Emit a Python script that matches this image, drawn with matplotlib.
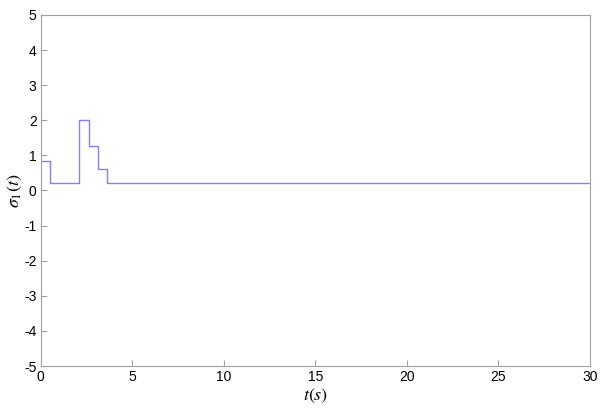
import numpy as np
import matplotlib
matplotlib.use("Agg")
from matplotlib import pyplot as plt

# switching instants and sigma_1 levels (step-post)
t_steps = [0.0, 0.5, 2.1, 2.62, 3.13, 3.64, 30.0]
sigma1 = [0.84, 0.21, 2.0, 1.28, 0.62, 0.21, 0.21]

xticks = [0, 5, 10, 15, 20, 25, 30]
yticks = [-5, -4, -3, -2, -1, 0, 1, 2, 3, 4, 5]

plt.rcParams['font.family'] = ['Liberation Sans', 'DejaVu Sans']
plt.rcParams['mathtext.fontset'] = 'stix'
plt.rcParams['axes.unicode_minus'] = False

fig = plt.figure(figsize=(6.0, 4.15), dpi=100)
ax = fig.add_axes([0.068, 0.118, 0.915, 0.846])

ax.plot(t_steps, sigma1, drawstyle='steps-post', color='#8080ff', lw=1.0)

ax.set_xlim(0, 30)
ax.set_ylim(-5, 5)
ax.set_xticks(xticks)
ax.set_yticks(yticks)
ax.tick_params(direction='in', length=4, width=0.8, color='#a0a0a0',
               labelsize=10, pad=3)
for sp in ax.spines.values():
    sp.set_color('#a0a0a0')
    sp.set_linewidth(0.8)

ax.set_xlabel(r'$t(s)$', fontsize=13, labelpad=2)
ax.set_ylabel(r'$\sigma_1(t)$', fontsize=13, labelpad=0)

fig.savefig('out.png', dpi=100)
